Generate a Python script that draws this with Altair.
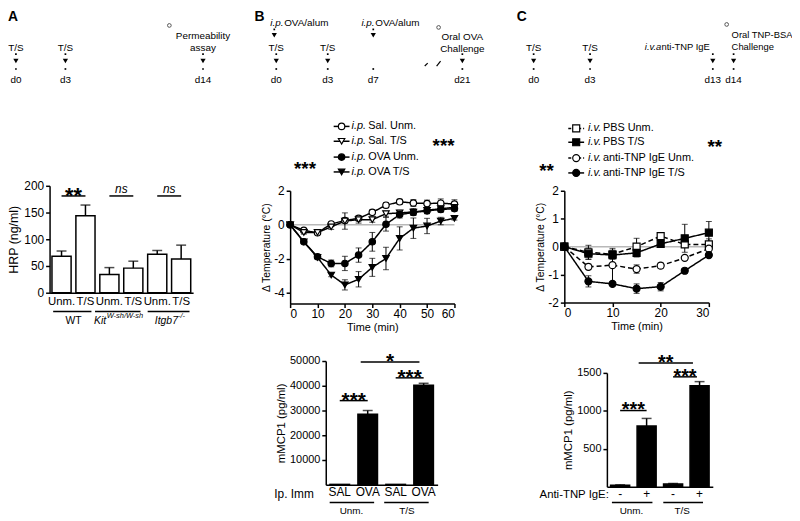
import altair as alt
import pandas as pd

W, H = 792, 513
OFF = 8
FONT = "Liberation Sans"


def cx(v):
    return v - OFF


def cy(v):
    return v - OFF


# ================= values =================
# ---- A : HRP permeability ----
a_genotype = ["WT", "WT", "Kit", "Kit", "Itgb7", "Itgb7"]
a_treatment = ["Unm.", "T/S", "Unm.", "T/S", "Unm.", "T/S"]
a_hrp = [68, 144, 34, 46, 72, 63]
a_hrp_sem = [10, 20, 13, 13, 7, 26]
a_sig_from = [0.5, 2.5, 4.5]
a_sig_to = [1.5, 3.5, 5.5]
a_sig_text = ["**", "ns", "ns"]
a_sig_level = [181, 181, 181]

# ---- B : temperature time course ----
b_time = [0, 5, 10, 15, 20, 25, 30, 35, 40, 45, 50, 55, 60]
b_series = ["Sal. Unm.", "Sal. T/S", "OVA Unm.", "OVA T/S"]
b_sal_unm = [0, -0.33, -0.47, 0.05, 0.25, 0.38, 0.73, 1.15, 1.35, 1.28, 1.25, 1.27, 1.22]
b_sal_unm_sem = [0, 0.1, 0.1, 0.1, 0.15, 0.15, 0.15, 0.15, 0.15, 0.2, 0.2, 0.25, 0.25]
b_sal_ts = [0, -0.45, -0.45, -0.12, 0.22, 0.3, 0.3, 0.65, 0.7, 0.75, 0.85, 0.95, 1.02]
b_sal_ts_sem = [0, 0.1, 0.1, 0.15, 0.48, 0.2, 0.15, 0.15, 0.15, 0.2, 0.2, 0.2, 0.2]
b_ova_unm = [0, -1.0, -1.88, -2.27, -2.27, -1.78, -1.0, 0.03, 0.6, 0.72, 0.82, 0.9, 0.95]
b_ova_unm_sem = [0, 0.1, 0.1, 0.2, 0.42, 0.42, 0.55, 0.4, 0.2, 0.15, 0.15, 0.15, 0.15]
b_ova_ts = [0, -1.0, -1.92, -2.95, -3.53, -3.2, -2.5, -1.98, -0.8, -0.2, -0.07, 0.22, 0.38]
b_ova_ts_sem = [0, 0.08, 0.1, 0.1, 0.3, 0.45, 0.53, 0.66, 0.68, 0.6, 0.45, 0.22, 0.1]
b_shapes = ["circle", "triangle-down", "circle", "triangle-down"]
b_fills = ["white", "white", "black", "black"]

# ---- B : mMCP1 ----
bb_group = ["Unm.", "Unm.", "T/S", "T/S"]
bb_imm = ["SAL", "OVA", "SAL", "OVA"]
bb_mcpt1 = [150, 28500, 150, 40200]
bb_sem = [0, 1500, 0, 800]
bb_sig_from = [0.5, 2.5, 1.25]
bb_sig_to = [1.5, 3.5, 3.35]
bb_sig_text = ["***", "***", "*"]
bb_sig_level = [34000, 43200, 49600]

# ---- C : temperature time course ----
c_time = [0, 5, 10, 15, 20, 25, 30]
c_series = ["PBS Unm.", "PBS T/S", "anti-TNP IgE Unm.", "anti-TNP IgE T/S"]
c_pbs_unm = [0, -0.2, -0.27, 0.0, 0.38, 0.08, 0.08]
c_pbs_unm_sem = [0, 0.25, 0.15, 0.3, 0.06, 0.1, 0.2]
c_pbs_ts = [0, -0.25, -0.3, -0.22, 0.1, 0.3, 0.5]
c_pbs_ts_sem = [0, 0.2, 0.15, 0.15, 0.05, 0.5, 0.4]
c_ige_unm = [0, -0.72, -0.66, -0.8, -0.68, -0.4, -0.07]
c_ige_unm_sem = [0, 0.1, 0.6, 0.15, 0.1, 0.05, 0.1]
c_ige_ts = [0, -1.24, -1.33, -1.5, -1.43, -0.86, -0.3]
c_ige_ts_sem = [0, 0.2, 0.05, 0.17, 0.15, 0.08, 0.08]
c_shapes = ["square", "square", "circle", "circle"]
c_fills = ["white", "black", "white", "black"]
c_dashed = [True, False, True, False]

# ---- C : mMCP1 ----
cb_group = ["Unm.", "Unm.", "T/S", "T/S"]
cb_ige = ["-", "+", "-", "+"]
cb_mcpt1 = [20, 800, 35, 1330]
cb_sem = [5, 100, 8, 55]
cb_sig_from = [0.5, 2.5, 1.2]
cb_sig_to = [1.5, 3.4, 3.25]
cb_sig_text = ["***", "***", "**"]
cb_sig_level = [1004, 1448, 1630]


# ================= helpers =================
def lin(domain, rng):
    return alt.Scale(domain=domain, range=rng, nice=False, zero=False)


def band(domain, rng, pi, po):
    return alt.Scale(domain=domain, range=rng, paddingInner=pi, paddingOuter=po)


def axis(orient, offset, **kw):
    base = dict(orient=orient, offset=offset, domainColor="black", domainWidth=1.5,
                tickColor="black", tickWidth=1.5, tickSize=4, labelColor="black",
                labelFont=FONT, titleFont=FONT, titleColor="black",
                titleFontWeight="normal", grid=False, labelPadding=2,
                labelFontSize=12, titleFontSize=11)
    base.update(kw)
    return alt.Axis(**base)


CXS = lin([0, W], [0, W])
CYS = lin([0, H], [0, H])


def canvas(items, cols):
    df = pd.DataFrame(items, columns=cols)
    df["x"] = df["x"] - OFF
    df["y"] = df["y"] - OFF
    return df


def ctext(df, **kw):
    return alt.Chart(df).mark_text(font=FONT, color="black", **kw).encode(
        x=alt.X("x:Q", scale=CXS, axis=None),
        y=alt.Y("y:Q", scale=CYS, axis=None),
        text="t:N")


def cpoints(df, **kw):
    return alt.Chart(df).mark_point(opacity=1, **kw).encode(
        x=alt.X("x:Q", scale=CXS, axis=None),
        y=alt.Y("y:Q", scale=CYS, axis=None))


def sig_layers(f, t, txt, lvl, slot, ys, star_size):
    df = pd.DataFrame({"x1": f, "x2": t, "t": txt, "y": lvl})
    df["xm"] = (df["x1"] + df["x2"]) / 2
    rule = alt.Chart(df).mark_rule(color="black", strokeWidth=1.5).encode(
        x=alt.X("x1:Q", scale=slot, axis=None), x2="x2:Q",
        y=alt.Y("y:Q", scale=ys, axis=None))
    stars = alt.Chart(df).transform_filter("datum.t != 'ns'").mark_text(
        font=FONT, fontSize=star_size, fontWeight="bold", baseline="alphabetic",
        dy=round(0.585 * star_size) - 6, color="black").encode(
        x=alt.X("xm:Q", scale=slot, axis=None),
        y=alt.Y("y:Q", scale=ys, axis=None), text="t:N")
    ns = alt.Chart(df).transform_filter("datum.t == 'ns'").mark_text(
        font=FONT, fontSize=12, fontStyle="italic", baseline="alphabetic",
        dy=-3, color="black").encode(
        x=alt.X("xm:Q", scale=slot, axis=None),
        y=alt.Y("y:Q", scale=ys, axis=None), text="t:N")
    return [rule, stars, ns]


def group_layers(f, t, labels, centers, slot, line_y, label_y, size):
    df = pd.DataFrame({"x1": f, "x2": t, "t": labels, "xm": centers})
    rule = alt.Chart(df).mark_rule(color="black", strokeWidth=1.5).encode(
        x=alt.X("x1:Q", scale=slot, axis=None), x2="x2:Q", y=alt.value(cy(line_y)))
    txt = alt.Chart(df).mark_text(font=FONT, fontSize=size, color="black").encode(
        x=alt.X("xm:Q", scale=slot, axis=None), y=alt.value(cy(label_y)), text="t:N")
    return [rule, txt]


def long_df(times, names, means, sems):
    rows = []
    for name, m, s in zip(names, means, sems):
        for tt, mv, sv in zip(times, m, s):
            rows.append(dict(series=name, t=tt, m=mv, s=sv, lo=mv - sv, hi=mv + sv))
    return pd.DataFrame(rows)


def timecourse(df, xs, ys, xdom, names, shapes, fills, dashes, msize, xaxis, yaxis):
    X = lambda f: alt.X(f, scale=xs, axis=None)
    Y = lambda f: alt.Y(f, scale=ys, axis=None)
    zero = alt.Chart(pd.DataFrame({"a": [xdom[0]], "b": [xdom[1]], "z": [0]})).mark_rule(
        color="#b8b8b8", strokeWidth=1.5).encode(x=X("a:Q"), x2="b:Q", y=Y("z:Q"))
    err = alt.Chart(df).transform_filter("datum.s > 0")
    rule = err.mark_rule(color="black", strokeWidth=1).encode(x=X("t:Q"), y=Y("lo:Q"), y2="hi:Q")
    cap_hi = err.mark_tick(orient="horizontal", size=6, thickness=1, color="black").encode(
        x=X("t:Q"), y=Y("hi:Q"))
    cap_lo = err.mark_tick(orient="horizontal", size=6, thickness=1, color="black").encode(
        x=X("t:Q"), y=Y("lo:Q"))
    line = alt.Chart(df).mark_line(color="black", strokeWidth=1.5).encode(
        x=alt.X("t:Q", scale=xs, axis=xaxis),
        y=alt.Y("m:Q", scale=ys, axis=yaxis),
        detail="series:N",
        strokeDash=alt.StrokeDash("series:N", scale=alt.Scale(domain=names, range=dashes), legend=None))
    pts = alt.Chart(df).mark_point(filled=True, stroke="black", strokeWidth=1.2, size=msize,
                                   opacity=1).encode(
        x=X("t:Q"), y=Y("m:Q"),
        shape=alt.Shape("series:N", scale=alt.Scale(domain=names, range=shapes), legend=None),
        fill=alt.Fill("series:N", scale=alt.Scale(domain=names, range=fills), legend=None))
    return [zero, rule, cap_hi, cap_lo, line, pts]


def bar_layers(keys, vals, sems, xs, ys, fill, xaxis, yaxis, cap):
    df = pd.DataFrame({"k": keys, "m": vals, "s": sems})
    df["hi"] = df["m"] + df["s"]
    bars = alt.Chart(df).mark_bar(fill=fill, stroke="black", strokeWidth=1.5).encode(
        x=alt.X("k:N", scale=xs, axis=xaxis), y=alt.Y("m:Q", scale=ys, axis=yaxis))
    err = alt.Chart(df).transform_filter("datum.s > 0")
    rule = err.mark_rule(color="black", strokeWidth=1.5).encode(
        x=alt.X("k:N", scale=xs, axis=None), y=alt.Y("m:Q", scale=ys, axis=None), y2="hi:Q")
    tick = err.mark_tick(orient="horizontal", size=cap, thickness=1.5, color="black").encode(
        x=alt.X("k:N", scale=xs, axis=None), y=alt.Y("hi:Q", scale=ys, axis=None))
    return [bars, rule, tick]


MINUS = "datum.value < 0 ? '-' + (-datum.value) : '' + datum.value"
SECOND = "split(datum.value, '|')[1]"

layers = []

# ================= Panel A =================
a_keys = [g + "|" + t for g, t in zip(a_genotype, a_treatment)]
A_X = band(a_keys, [cx(50), cx(195)], 0.2, 0.1)
A_SLOT = lin([0, 6], [cx(50), cx(195)])
A_Y = lin([0, 200], [cy(293), cy(185)])
layers += bar_layers(
    a_keys, a_hrp, a_hrp_sem, A_X, A_Y, "white",
    axis("bottom", cy(293) - H, ticks=False, labelExpr=SECOND, labelFontSize=11.5,
         labelPadding=3, title="", labelAngle=0),
    axis("left", -cx(50), values=[0, 50, 100, 150, 200], title="HRP (ng/ml)",
         titleFontSize=12.5, titlePadding=3), 10)
layers += sig_layers(a_sig_from, a_sig_to, a_sig_text, a_sig_level, A_SLOT, A_Y, 22)
layers += group_layers([0.15, 1.9, 4.1], [1.75, 3.8, 5.85], ["WT", "", ""], [1.0, 3.0, 5.0],
                       A_SLOT, 312, 322, 10.5)
a_ital = pd.DataFrame({"xm": [1.86, 4.4], "t": ["Kit", "Itgb7"]})
layers.append(alt.Chart(a_ital).mark_text(font=FONT, fontSize=10.5, fontStyle="italic",
                                          align="left", color="black").encode(
    x=alt.X("xm:Q", scale=A_SLOT, axis=None), y=alt.value(cy(322)), text="t:N"))
a_sup = pd.DataFrame({"xm": [2.39, 5.37], "t": ["W-sh/W-sh", "-/-"]})
layers.append(alt.Chart(a_sup).mark_text(font=FONT, fontSize=7.5, fontStyle="italic",
                                         align="left", color="black").encode(
    x=alt.X("xm:Q", scale=A_SLOT, axis=None), y=alt.value(cy(317)), text="t:N"))

# ================= Panel B : time course =================
B_X = lin([0, 60], [cx(293), cx(459)])
B_Y = lin([-4.63, 2], [cy(304), cy(190)])
dfB = long_df(b_time, b_series,
              [b_sal_unm, b_sal_ts, b_ova_unm, b_ova_ts],
              [b_sal_unm_sem, b_sal_ts_sem, b_ova_unm_sem, b_ova_ts_sem])
layers += timecourse(
    dfB, B_X, B_Y, [0, 60], b_series, b_shapes, b_fills, [[1, 0]] * 4, 42,
    axis("bottom", cy(304) - H, values=[0, 10, 20, 30, 40, 50, 60], title="Time (min)",
         labelPadding=1, titlePadding=2),
    axis("left", -cx(293), values=[-4, -2, 0, 2], labelExpr=MINUS,
         title="Δ Temperature (°C)", titleFontSize=10.5, titlePadding=2))

# ================= Panel C : time course =================
C_X = lin([0, 30], [cx(570), cx(716)])
C_Y = lin([-2, 2], [cy(303), cy(190)])
dfC = long_df(c_time, c_series,
              [c_pbs_unm, c_pbs_ts, c_ige_unm, c_ige_ts],
              [c_pbs_unm_sem, c_pbs_ts_sem, c_ige_unm_sem, c_ige_ts_sem])
layers += timecourse(
    dfC, C_X, C_Y, [0, 30], c_series, c_shapes, c_fills,
    [[5, 3] if d else [1, 0] for d in c_dashed], 50,
    axis("bottom", cy(303) - H, values=[0, 10, 20, 30], title="Time (min)",
         labelPadding=1, titlePadding=2),
    axis("left", -cx(570), values=[-2, -1, 0, 1, 2], labelExpr=MINUS,
         title="Δ Temperature (°C)", titleFontSize=10.5, titlePadding=2))

# ================= Panel B : mMCP1 =================
bb_keys = [g + "|" + i for g, i in zip(bb_group, bb_imm)]
BB_X = band(bb_keys, [cx(329), cx(442)], 0.3, 0.15)
BB_SLOT = lin([0, 4], [cx(329), cx(442)])
BB_Y = lin([0, 50000], [cy(487), cy(362)])
layers += bar_layers(
    bb_keys, bb_mcpt1, bb_sem, BB_X, BB_Y, "black",
    axis("bottom", cy(487) - H, ticks=False, labelExpr=SECOND, labelFontSize=12,
         labelPadding=2, title="", labelAngle=0),
    axis("left", -cx(329), values=[10000, 20000, 30000, 40000, 50000], format="d",
         labelFontSize=11, title="mMCP1 (pg/ml)", titleFontSize=11.5, titlePadding=3), 10)
layers += sig_layers(bb_sig_from, bb_sig_to, bb_sig_text, bb_sig_level, BB_SLOT, BB_Y, 21)
layers += group_layers([0.14, 2.09], [1.73, 3.68], ["Unm.", "T/S"], [0.92, 2.9],
                       BB_SLOT, 505, 514, 10)

# ================= Panel C : mMCP1 =================
cb_keys = [g + "|" + i for g, i in zip(cb_group, cb_ige)]
CB_X = band(cb_keys, [cx(613), cx(720)], 0.28, 0.14)
CB_SLOT = lin([0, 4], [cx(613), cx(720)])
CB_Y = lin([0, 1500], [cy(489), cy(374)])
layers += bar_layers(
    cb_keys, cb_mcpt1, cb_sem, CB_X, CB_Y, "black",
    axis("bottom", cy(489) - H, ticks=False, labelExpr=SECOND, labelFontSize=12,
         labelPadding=2, title="", labelAngle=0),
    axis("left", -cx(613), values=[500, 1000, 1500], format="d",
         labelFontSize=11, title="mMCP1 (pg/ml)", titleFontSize=11.5, titlePadding=3), 10)
layers += sig_layers(cb_sig_from, cb_sig_to, cb_sig_text, cb_sig_level, CB_SLOT, CB_Y, 20)
layers += group_layers([0.19, 2.13], [1.72, 3.63], ["Unm.", "T/S"], [0.93, 2.84],
                       CB_SLOT, 505, 514, 10)

# ================= legends of the time courses =================
b_leg = pd.DataFrame({"series": b_series, "y": [cy(v) for v in [125, 140, 156, 171]],
                      "shape": b_shapes, "fill": b_fills})
c_leg = pd.DataFrame({"series": c_series, "y": [cy(v) for v in [127, 141, 157, 172]],
                      "shape": c_shapes, "fill": c_fills, "dash": c_dashed})
LY = alt.Y("y:Q", scale=CYS, axis=None)
layers.append(alt.Chart(b_leg).mark_rule(color="black", strokeWidth=1.5).encode(
    x=alt.value(cx(337)), x2=alt.value(cx(353)), y=LY))
layers.append(alt.Chart(c_leg).transform_filter("!datum.dash").mark_rule(
    color="black", strokeWidth=1.5).encode(x=alt.value(cx(574)), x2=alt.value(cx(590)), y=LY))
layers.append(alt.Chart(c_leg).transform_filter("datum.dash").mark_rule(
    color="black", strokeWidth=1.5, strokeDash=[3, 2]).encode(
    x=alt.value(cx(574)), x2=alt.value(cx(590)), y=LY))
for leg, mx, msz in [(b_leg, 345, 42), (c_leg, 582, 50)]:
    layers.append(alt.Chart(leg).mark_point(filled=True, stroke="black", strokeWidth=1.2,
                                            size=msz, opacity=1).encode(
        x=alt.value(cx(mx)), y=LY,
        shape=alt.Shape("shape:N", scale=None), fill=alt.Fill("fill:N", scale=None)))
for leg, x_it, x_rest, it in [(b_leg, 355, 372, "i.p."), (c_leg, 594, 609, "i.v.")]:
    layers.append(alt.Chart(leg).mark_text(font=FONT, fontSize=11, fontStyle="italic",
                                           align="left", color="black").encode(
        x=alt.value(cx(x_it)), y=LY, text=alt.value(it)))
    layers.append(alt.Chart(leg).mark_text(font=FONT, fontSize=11, align="left",
                                           color="black").encode(
        x=alt.value(cx(x_rest)), y=LY, text="series:N"))
leg_stars = canvas([("***", 448, 140 + 11), ("***", 308, 163 + 11),
                    ("**", 722, 141 + 11), ("**", 552, 165 + 11)], ["t", "x", "y"])
layers.append(ctext(leg_stars, fontSize=19, fontWeight="bold", baseline="alphabetic"))

# ================= bar-chart side labels =================
layers.append(ctext(canvas([("Ip. Imm", 277, 496)], ["t", "x", "y"]), fontSize=12, align="left"))
layers.append(ctext(canvas([("Anti-TNP IgE:", 615, 497)], ["t", "x", "y"]), fontSize=11.5,
                    align="right"))

# ================= panel letters =================
layers.append(ctext(canvas([("A", 8, 8), ("B", 257, 8), ("C", 522, 8)], ["t", "x", "y"]),
                    fontSize=14, fontWeight="bold", align="left", baseline="top"))

# ================= protocol timelines =================
tl_center = canvas([
    ("T/S", 16, 46), ("T/S", 66, 46), ("d0", 16, 78), ("d3", 66, 78), ("d14", 205, 78),
    ("Permeability", 205, 34), ("assay", 205, 46),
    ("T/S", 279, 46), ("T/S", 331, 46), ("d0", 279, 78), ("d3", 331, 78), ("d7", 377, 78),
    ("d21", 467, 78), ("Oral OVA", 467, 35), ("Challenge", 467, 47),
    ("T/S", 539, 46), ("T/S", 596, 46), ("d0", 539, 78), ("d3", 596, 78),
    ("d13", 720, 78), ("d14", 741, 78)], ["t", "x", "y"])
tl_left = canvas([("OVA/alum", 287, 21), ("OVA/alum", 379, 21)], ["t", "x", "y"])
tl_left_small = canvas([("Oral TNP-BSA", 739, 33), ("Challenge", 739, 45)], ["t", "x", "y"])
tl_left_it = canvas([("i.p.", 273, 21), ("i.p.", 365, 21)], ["t", "x", "y"])
tl_right = canvas([("nti-TNP IgE", 717, 45)], ["t", "x", "y"])
tl_right_it = canvas([("i.v.a", 668, 45)], ["t", "x", "y"])
layers.append(ctext(tl_center, fontSize=10))
layers.append(ctext(tl_left, fontSize=10, align="left"))
layers.append(ctext(tl_left_small, fontSize=9.5, align="left"))
layers.append(ctext(tl_left_it, fontSize=10, align="left", fontStyle="italic"))
layers.append(ctext(tl_right, fontSize=9.5, align="right"))
layers.append(ctext(tl_right_it, fontSize=9.5, align="right", fontStyle="italic"))

tl_tri = canvas([(16, 59), (66, 59), (205, 59), (279, 59), (331, 59), (467, 59),
                 (277, 33), (377, 33), (539, 59), (596, 59), (720, 59), (741, 59)], ["x", "y"])
tl_dot = canvas([(16, 52), (16, 67), (66, 52), (66, 67), (205, 52), (205, 67),
                 (279, 52), (279, 67), (331, 52), (331, 67), (377, 67), (467, 52), (467, 67),
                 (277, 27), (377, 27),
                 (539, 52), (539, 67), (596, 52), (596, 67), (720, 52), (720, 67),
                 (741, 52), (741, 67)], ["x", "y"])
tl_circ = canvas([(171, 23), (443, 25), (734, 22)], ["x", "y"])
layers.append(cpoints(tl_tri, shape="triangle-down", filled=True, color="black", size=28))
layers.append(cpoints(tl_dot, shape="square", filled=True, color="black", size=3))
layers.append(cpoints(tl_circ, shape="circle", filled=False, color="#555555", size=14,
                      strokeWidth=1))
tl_slash = pd.DataFrame({"x": [cx(429), cx(441)], "x2": [cx(432), cx(445)],
                         "y": [cy(64), cy(64)], "y2": [cy(61), cy(59)]})
layers.append(alt.Chart(tl_slash).mark_rule(color="black", strokeWidth=1.2).encode(
    x=alt.X("x:Q", scale=CXS, axis=None), x2="x2:Q",
    y=alt.Y("y:Q", scale=CYS, axis=None), y2="y2:Q"))

chart = alt.layer(*layers).resolve_scale(
    x="independent", y="independent", shape="independent", fill="independent",
    strokeDash="independent"
).properties(
    width=W, height=H, autosize=alt.AutoSizeParams(type="none"), padding=0
).configure_view(stroke=None)

chart.save("out.html", embed_options={"renderer": "svg", "actions": False})
